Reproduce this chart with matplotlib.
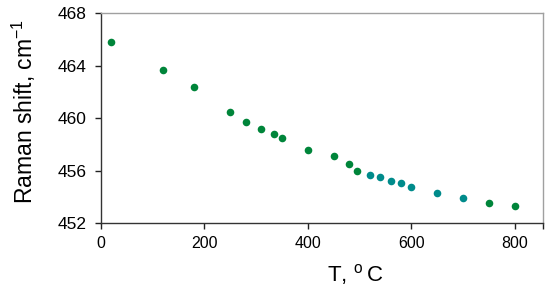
import matplotlib
matplotlib.use("Agg")
import matplotlib.pyplot as plt

plt.rcParams['font.family'] = ['Liberation Sans', 'DejaVu Sans']
plt.rcParams['mathtext.fontset'] = 'custom'
plt.rcParams['mathtext.rm'] = 'Liberation Sans'

# green series
T_green = [20, 120, 180, 250, 280, 310, 335, 350, 400, 450, 480, 495, 750, 800]
shift_green = [465.8, 463.7, 462.4, 460.5, 459.7, 459.2, 458.8, 458.5, 457.6, 457.1, 456.5, 456.0, 453.55, 453.3]
# teal series
T_teal = [520, 540, 560, 580, 600, 650, 700]
shift_teal = [455.7, 455.5, 455.25, 455.05, 454.8, 454.3, 453.95]

xticks = [0, 200, 400, 600, 800]
yticks = [452, 456, 460, 464, 468]

fig = plt.figure(figsize=(5.5, 2.88), dpi=100)
ax = fig.add_axes([0.1836, 0.2247, 0.8043, 0.7291])

ax.scatter(T_green, shift_green, s=30, color='#00853a', linewidths=0, zorder=3)
ax.scatter(T_teal, shift_teal, s=30, color='#008b8b', linewidths=0, zorder=3)

ax.set_xlim(0, 855)
ax.set_ylim(452, 468)
ax.set_xticks(xticks + [855])
ax.set_xticklabels([str(t) for t in xticks] + [''])
ax.set_yticks(yticks)
ax.set_yticklabels([str(t) for t in yticks])

ax.tick_params(direction='out', length=4, width=1, colors='#222222')
ax.tick_params(axis='x', labelsize=11.5, pad=5)
ax.tick_params(axis='y', labelsize=12.5, pad=6.5)
for lab in ax.get_xticklabels() + ax.get_yticklabels():
    lab.set_color('black')
for side in ['left', 'bottom']:
    ax.spines[side].set_color('#333333')
    ax.spines[side].set_linewidth(1.0)
for side in ['top', 'right']:
    ax.spines[side].set_color('#a0a0a0')
    ax.spines[side].set_linewidth(1.0)

ax.set_xlabel('T, $^{\\mathregular{o}}\\,$C', fontsize=16)
ax.xaxis.set_label_coords(0.574, -0.185)
ax.set_ylabel('Raman shift, cm$^{\\mathregular{-1}}$', fontsize=16.5)
ax.yaxis.set_label_coords(-0.142, 0.532)

fig.savefig('out.png', dpi=100)
